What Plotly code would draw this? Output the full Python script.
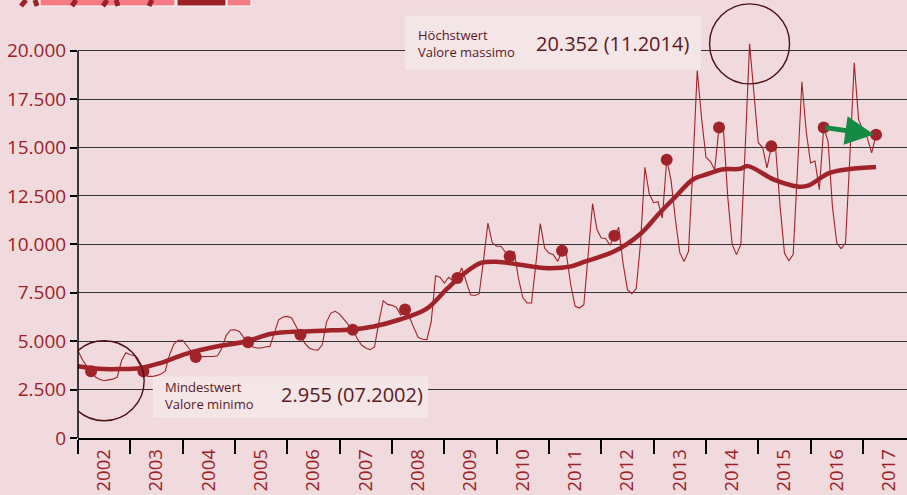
import plotly.graph_objects as go

# ---------------- data (monthly values, Jan 2002 - Apr 2017) ----------------
start_year = 2002
v2002 = [4500, 4050, 3700, 3450, 3150, 3020, 2955, 3000, 3040, 3150, 4000, 4400]
v2003 = [4300, 4250, 3850, 3440, 3180, 3180, 3220, 3300, 3450, 4300, 4850, 5050]
v2004 = [5050, 4750, 4450, 4180, 4200, 4200, 4200, 4210, 4250, 4650, 5300, 5580]
v2005 = [5590, 5500, 5200, 4940, 4700, 4650, 4650, 4700, 4730, 5400, 6100, 6250]
v2006 = [6280, 6200, 5800, 5330, 4900, 4650, 4560, 4540, 4800, 6000, 6450, 6540]
v2007 = [6400, 6100, 5850, 5590, 5150, 4800, 4650, 4560, 4700, 6000, 7090, 6900]
v2008 = [6850, 6750, 6350, 6630, 6250, 5700, 5200, 5100, 5080, 6000, 8380, 8300]
v2009 = [8000, 8300, 8100, 8260, 8780, 8100, 7400, 7360, 7450, 9200, 11100, 10070]
v2010 = [9900, 9900, 9600, 9380, 9640, 8250, 7250, 6970, 6970, 9000, 11070, 9810]
v2011 = [9550, 9470, 9120, 9670, 9500, 7900, 6800, 6710, 6880, 9500, 12100, 10760]
v2012 = [10330, 10300, 9950, 10450, 10880, 9000, 7660, 7450, 7700, 10080, 13980, 12600]
v2013 = [12150, 12200, 11360, 14370, 13300, 11270, 9570, 9120, 9640, 14000, 18980, 16500]
v2014 = [14500, 14290, 13850, 16040, 15950, 12450, 10000, 9470, 10000, 15000, 20352, 17800]
v2015 = [15250, 15000, 13950, 15060, 14900, 11960, 9550, 9150, 9470, 13900, 18400, 15800]
v2016 = [14200, 14300, 12820, 16040, 15320, 11960, 10070, 9780, 10070, 14540, 19380, 16440]
v2017 = [15900, 15500, 14720, 15660]

# smoothed trend line
trend_x = [2002.00, 2002.40, 2002.80, 2003.20, 2003.55, 2004.05, 2004.60, 2005.20,
           2005.70, 2006.25, 2006.85, 2007.25, 2007.65, 2008.15, 2008.65, 2009.05,
           2009.35, 2009.70, 2010.00, 2010.45, 2010.90, 2011.40, 2011.70, 2012.25,
           2012.75, 2013.10, 2013.45, 2013.75, 2014.05, 2014.30, 2014.65, 2014.80,
           2015.30, 2015.75, 2015.95, 2016.35, 2016.75, 2017.25]
trend_y = [3700, 3570, 3560, 3620, 3850, 4330, 4700, 4980,
           5380, 5500, 5560, 5600, 5760, 6120, 6650, 7700,
           8430, 9040, 9100, 8950, 8780, 8850, 9120, 9640,
           10550, 11580, 12550, 13350, 13650, 13870, 13900, 14040,
           13340, 12990, 13030, 13680, 13890, 13990]

year_ticks = list(range(2002, 2018))
year_labels = [str(y) for y in year_ticks]
y_ticks = [0, 2500, 5000, 7500, 10000, 12500, 15000, 17500, 20000]
y_labels = ["0", "2.500", "5.000", "7.500", "10.000", "12.500", "15.000", "17.500", "20.000"]

max_text = "20.352 (11.2014)"
min_text = "2.955 (07.2002)"
max_label = "Höchstwert<br>Valore massimo"
min_label = "Mindestwert<br>Valore minimo"

# ---------------- derived ----------------
values = (v2002 + v2003 + v2004 + v2005 + v2006 + v2007 + v2008 + v2009 + v2010 +
          v2011 + v2012 + v2013 + v2014 + v2015 + v2016 + v2017)
xs = [start_year + i / 12 for i in range(len(values))]
dot_idx = list(range(3, len(values), 12))  # April of each year
dot_x = [xs[i] for i in dot_idx]
dot_y = [values[i] for i in dot_idx]
imax = max(range(len(values)), key=lambda i: values[i])
imin = min(range(len(values)), key=lambda i: values[i])

# ---------------- style ----------------
BG = "#f0dadd"
BOX = "#f4e5e7"
RED = "#a0232a"
TXT_RED = "#9b2127"
DARK = "#5a1a1f"
FONT = "Open Sans"

W, H = 907, 495
ML, MR, MT, MB = 78, 0, 2, 57
X_RANGE = [2002, 2002 + (W - ML - MR) / 52.33]
Y_RANGE = [0, 22515]
px_per_year = (W - ML - MR) / (X_RANGE[1] - X_RANGE[0])
px_per_unit = (H - MT - MB) / (Y_RANGE[1] - Y_RANGE[0])

fig = go.Figure()
fig.add_trace(go.Scatter(x=xs, y=values, mode="lines",
                         line=dict(color=RED, width=1.1), hoverinfo="skip"))
fig.add_trace(go.Scatter(x=trend_x, y=trend_y, mode="lines",
                         line=dict(color=RED, width=4.5, shape="spline", smoothing=1.0),
                         hoverinfo="skip"))
fig.add_trace(go.Scatter(x=dot_x, y=dot_y, mode="markers",
                         marker=dict(color=RED, size=12), hoverinfo="skip"))

shapes = []
# y axis line (stops at 20.000)
shapes.append(dict(type="line", xref="paper", yref="y", x0=0, x1=0, y0=0, y1=20000,
                   line=dict(color="black", width=1.5)))
# light boxes behind the labels
shapes.append(dict(type="rect", xref="x", yref="y", layer="between",
                   x0=2008.25, x1=2013.905, y0=19020, y1=21800,
                   fillcolor=BOX, line=dict(width=0)))
shapes.append(dict(type="rect", xref="x", yref="y", layer="between",
                   x0=2003.43, x1=2008.69, y0=1050, y1=3170,
                   fillcolor=BOX, line=dict(width=0)))
# circles around extremes
r_px = 40
for i in (imax, imin):
    rx = r_px / px_per_year
    ry = r_px / px_per_unit
    shapes.append(dict(type="circle", xref="x", yref="y",
                       x0=xs[i] - rx, x1=xs[i] + rx, y0=values[i] - ry, y1=values[i] + ry,
                       line=dict(color="#4a1014", width=1.4)))

# header graphic fragment at top-left (paper coords from pixels)
def px(xp):
    return (xp - ML) / (W - ML - MR)
def py(yp):
    return (H - MB - yp) / (H - MT - MB)

shapes.append(dict(type="rect", xref="paper", yref="paper", x0=px(40), x1=px(175),
                   y0=py(6), y1=py(-2), fillcolor="#f47a84", line=dict(color="white", width=1)))
shapes.append(dict(type="rect", xref="paper", yref="paper", x0=px(177), x1=px(226),
                   y0=py(6), y1=py(-2), fillcolor="#9b2127", line=dict(color="white", width=1)))
shapes.append(dict(type="rect", xref="paper", yref="paper", x0=px(227), x1=px(251),
                   y0=py(6), y1=py(-2), fillcolor="#f47a84", line=dict(color="white", width=1)))
for (a, b) in [((21, 6), (26, 0)), ((37, 6), (35, 0)), ((72, 6), (76, 0)),
               ((103, 6), (107, 0)), ((118, 6), (116, 0)), ((149, 6), (152, 0))]:
    shapes.append(dict(type="line", xref="paper", yref="paper",
                       x0=px(a[0]), y0=py(a[1]), x1=px(b[0]), y1=py(b[1]),
                       line=dict(color="#9b2127", width=5)))

annotations = [
    dict(x=2008.46, y=values[imax], xref="x", yref="y", text=max_label, showarrow=False,
         xanchor="left", yanchor="middle", align="left",
         font=dict(family=FONT, size=13, color=DARK)),
    dict(x=2010.72, y=values[imax], xref="x", yref="y", text=max_text, showarrow=False,
         xanchor="left", yanchor="middle",
         font=dict(family=FONT, size=20, color=DARK)),
    dict(x=2003.62, y=2190, xref="x", yref="y", text=min_label, showarrow=False,
         xanchor="left", yanchor="middle", align="left",
         font=dict(family=FONT, size=13, color=DARK)),
    dict(x=2005.84, y=2240, xref="x", yref="y", text=min_text, showarrow=False,
         xanchor="left", yanchor="middle",
         font=dict(family=FONT, size=20, color=DARK)),
    dict(x=dot_x[-1], y=dot_y[-1], ax=dot_x[-2], ay=dot_y[-2], xref="x", yref="y",
         axref="x", ayref="y", text="", showarrow=True, arrowhead=2, arrowsize=1.15,
         arrowwidth=5, arrowcolor="#148a42", standoff=2),
]

fig.update_layout(
    width=W, height=H, margin=dict(l=ML, r=MR, t=MT, b=MB),
    paper_bgcolor=BG, plot_bgcolor=BG, showlegend=False,
    font=dict(family=FONT, color=TXT_RED),
    shapes=shapes, annotations=annotations,
    xaxis=dict(range=X_RANGE, tickmode="array",
               tickvals=[y + 0.5 for y in year_ticks], ticktext=year_labels,
               tickangle=-90, ticks="outside", ticklen=2, tickcolor="rgba(0,0,0,0)",
               tickfont=dict(family=FONT, size=18.5, color=TXT_RED),
               showgrid=False, zeroline=False, showline=True,
               linecolor="black", linewidth=1.5, automargin=False,
               minor=dict(tickmode="array", tickvals=year_ticks, ticks="outside",
                          ticklen=14, tickwidth=1.5, tickcolor="black", showgrid=False)),
    yaxis=dict(range=Y_RANGE, tickmode="array", tickvals=y_ticks, ticktext=y_labels,
               ticks="outside", ticklen=7, tickwidth=1.5, tickcolor="black",
               tickfont=dict(family=FONT, size=19, color=TXT_RED),
               showgrid=True, gridcolor="#333333", gridwidth=1.2,
               zeroline=False, showline=False, automargin=False),
)

fig.write_html("out.html", config={"displayModeBar": False},
               post_script="document.body.style.margin='0';document.body.style.overflow='hidden';")
